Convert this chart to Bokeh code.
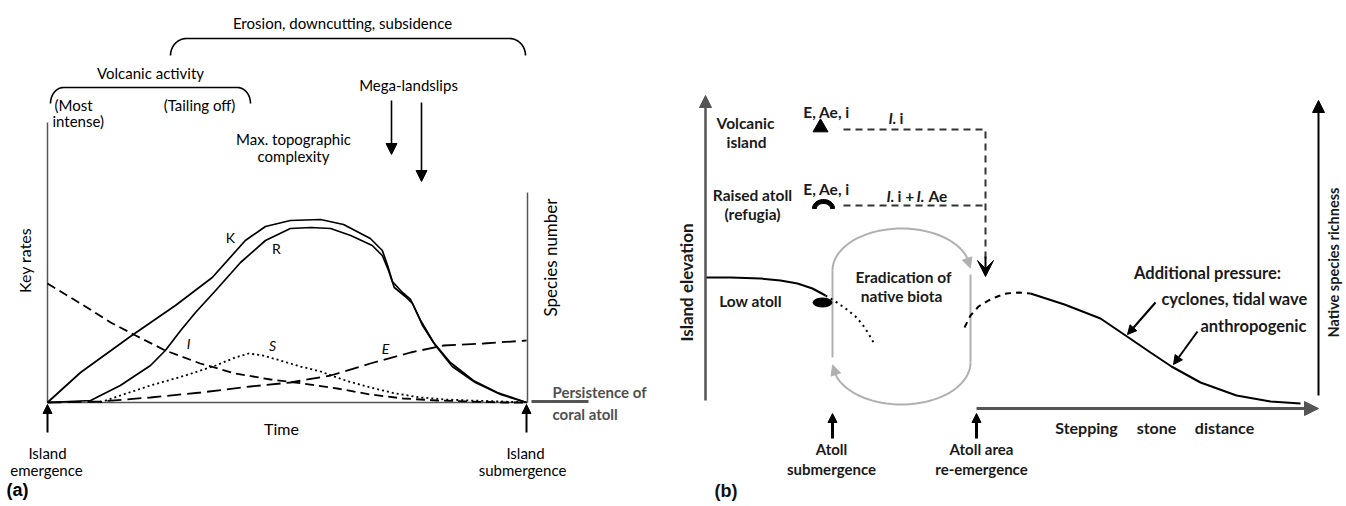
import numpy as np
from bokeh.plotting import figure
from bokeh.models import Range1d, Arrow, NormalHead, VeeHead
from bokeh.layouts import row
from bokeh.embed import file_html
from bokeh.resources import INLINE
from bokeh.core.properties import value

# ---------------- Panel (a) data: time (0-100) vs key rates (0-100) ----------------
k_time = [0, 6.9, 17.3, 26.7, 34.4, 41.3, 45.5, 50.7, 57, 61.8, 67.4, 69.9, 71, 72, 74.1, 75.8, 77.9, 80.6, 84.1, 88.9, 93.9, 100]
k_rate = [0, 15, 33, 48.5, 62.5, 81, 88, 91, 91.5, 89, 82, 76, 68.5, 60.5, 55, 51.5, 41, 30, 20, 11, 5, 0]

r_time = [0, 9, 15.2, 21.5, 24.6, 27.8, 30.9, 35.1, 40.3, 45.5, 50.7, 55, 59.1, 63.3, 67.8, 69.9, 71.2, 72.4, 74.7, 76.2, 78.3, 81, 84.5, 89.3, 94.6, 100]
r_rate = [0, 1, 8.5, 18.5, 26, 36, 45, 56, 70, 81, 87, 87.5, 87, 83.5, 78.5, 73.5, 66, 57.5, 53, 49.5, 38.5, 28.5, 18, 10, 4, 0]

i_time = [0, 6.9, 13.2, 18.4, 24.6, 31.9, 39.2, 46.6, 53.4, 60.5, 67.4, 74.3, 81.4, 88.3, 95.2, 100]
i_rate = [59.5, 49.5, 40, 33.5, 26, 19.5, 14.5, 11.5, 9.5, 7, 4, 2, 1, 0.5, 0, 0]

s_time = [11, 15.2, 21.5, 28.8, 35.1, 39.2, 42, 45, 48.6, 52.8, 57, 62.2, 67.4, 72.7, 77.9, 83.1, 88.3, 94.6, 100]
s_rate = [0, 3.5, 8.5, 13.5, 18.5, 22.5, 24.5, 23.5, 21, 18, 15.5, 11, 7.5, 4.5, 2.5, 1.5, 1, 0.5, 0]

e_time = [0, 11, 21.5, 32, 42.4, 50.7, 59.1, 67.4, 75.8, 82.7, 91, 100]
e_rate = [0, 0.5, 2.5, 5, 8, 10, 13.5, 19.5, 25, 28.5, 29.5, 31]

# ---------------- Panel (b) data: distance vs elevation / richness ----------------
atoll_dist = [0, 25, 55, 75, 92, 107, 120]
atoll_elev = [130, 130, 129, 127, 124, 119, 112]
sub_dist = [120, 130, 140, 150, 157, 163, 168]
sub_elev = [112, 106, 99, 91, 83, 74, 65]
reem_dist = [259, 265, 273, 283, 292, 301, 313, 325]
reem_elev = [80, 92, 101, 107, 111, 114, 115, 114]
rich_dist = [325, 359, 395, 423, 445, 466, 495, 531, 565, 595]
rich_val = [114, 103, 89, 70, 55, 41, 25, 12, 6, 4]

FA = value("Lato")
FB = value("Lato")

W_A, W_B, H = 666, 680, 506


# page-pixel -> data helpers for annotations
def ax(px):
    return (px - 47) / 4.79


def ay(py):
    return (402 - py) / 2.0


def bx(px):
    return px - 705


def by(py):
    return 407 - py


def make_fig(xr, yr, w):
    p = figure(width=w, height=H, x_range=Range1d(*xr), y_range=Range1d(*yr),
               output_backend="svg", toolbar_location=None,
               x_axis_type=None, y_axis_type=None, min_border=0,
               outline_line_color=None, background_fill_color="white",
               border_fill_color="white")
    p.min_border_left = p.min_border_right = 0
    p.min_border_top = p.min_border_bottom = 0
    return p


def txt(p, x, y, s, size, font=FA, style="normal", align="center", color="#111111", angle=0.0):
    p.text(x=[x], y=[y], text=[s], text_font=font, text_font_size=f"{size}px",
           text_font_style=style, text_align=align, text_baseline="middle",
           text_color=color, angle=angle)


def arr(p, x0, y0, x1, y1, color="black", width=2, size=10, vee=False):
    if vee:
        head = VeeHead(size=size, fill_color=color, line_color=color, line_width=1)
    else:
        head = NormalHead(size=size, fill_color=color, line_color=color, line_width=1)
    p.add_layout(Arrow(end=head, x_start=x0, y_start=y0, x_end=x1, y_end=y1,
                       line_color=color, line_width=width))


# ====================== Panel (a) ======================
pa = make_fig((ax(0), ax(W_A)), (ay(H), ay(0)), W_A)

# axes
pa.line([ax(47), ax(47)], [ay(122), ay(402)], line_color="#555555", line_width=1.5)
pa.line([ax(47), ax(527)], [ay(402), ay(402)], line_color="#555555", line_width=1.5)
pa.line([ax(527), ax(527)], [ay(192), ay(402)], line_color="#555555", line_width=1.5)
pa.line([ax(531), ax(588)], [ay(401), ay(401)], line_color="#555555", line_width=3)

# curves
pa.line(k_time, k_rate, line_color="black", line_width=1.7)
pa.line(r_time, r_rate, line_color="black", line_width=1.7)
pa.line(i_time, i_rate, line_color="black", line_width=1.8, line_dash="9 5")
pa.line(s_time, s_rate, line_color="black", line_width=1.8, line_dash="2 3")
pa.line(e_time, e_rate, line_color="black", line_width=1.8, line_dash="14 6")


def brace(p, x0, x1, ytop, yend, r):
    th1 = np.linspace(np.pi, np.pi / 2, 14)
    th2 = np.linspace(np.pi / 2, 0, 14)
    ry = yend - ytop
    xs = np.concatenate([(x0 + r) + r * np.cos(th1), (x1 - r) + r * np.cos(th2)])
    ys = np.concatenate([yend - ry * np.sin(th1), yend - ry * np.sin(th2)])
    p.line([ax(v) for v in xs], [ay(v) for v in ys], line_color="black", line_width=1.6)


brace(pa, 170, 525, 38, 55, 16)
brace(pa, 50, 250, 87, 103, 13)

# landslip arrows
arr(pa, ax(391), ay(100), ax(391), ay(154), width=1.6, size=11)
arr(pa, ax(421), ay(102), ax(421), ay(181), width=1.6, size=11)

# bottom arrows
arr(pa, ax(47), ay(432), ax(47), ay(404), width=2, size=9)
arr(pa, ax(526), ay(432), ax(526), ay(404), width=2, size=9)

TA = "#000000"
txt(pa, ax(342), ay(22), "Erosion, downcutting, subsidence", 15, color=TA)
txt(pa, ax(150), ay(72), "Volcanic activity", 15, color=TA)
txt(pa, ax(54), ay(104), "(Most", 15, align="left", color=TA)
txt(pa, ax(52), ay(120), "intense)", 15, align="left", color=TA)
txt(pa, ax(199), ay(104), "(Tailing off)", 15, color=TA)
txt(pa, ax(408), ay(84), "Mega-landslips", 15, color=TA)
txt(pa, ax(293), ay(138), "Max. topographic", 15, color=TA)
txt(pa, ax(293), ay(155), "complexity", 15, color=TA)
txt(pa, ax(24), ay(260), "Key rates", 16, angle=np.pi / 2, color=TA)
txt(pa, ax(550), ay(257), "Species number", 17, angle=np.pi / 2, color=TA)
txt(pa, ax(230), ay(237), "K", 14, color=TA)
txt(pa, ax(276), ay(248), "R", 14, color=TA)
txt(pa, ax(188), ay(343), "I", 14, style="italic", color=TA)
txt(pa, ax(272), ay(345), "S", 14, style="italic", color=TA)
txt(pa, ax(385), ay(348), "E", 14, style="italic", color=TA)
txt(pa, ax(281), ay(428), "Time", 16, color=TA)
txt(pa, ax(47), ay(452), "Island", 15, color=TA)
txt(pa, ax(46), ay(469), "emergence", 15, color=TA)
txt(pa, ax(525), ay(452), "Island", 15, color=TA)
txt(pa, ax(522), ay(469), "submergence", 15, color=TA)
txt(pa, ax(552), ay(391), "Persistence of", 15, style="bold", align="left", color="#505050")
txt(pa, ax(552), ay(413), "coral atoll", 15, style="bold", align="left", color="#505050")
txt(pa, ax(6), ay(489), "(a)", 18, font=value("Liberation Sans"), style="bold", align="left", color=TA)

# ====================== Panel (b) ======================
pb = make_fig((bx(W_A), bx(W_A + W_B)), (by(H), by(0)), W_B)

# axes
arr(pb, bx(705), by(400), bx(705), by(95), color="#555555", width=2.5, size=12)
arr(pb, bx(1318), by(395), bx(1318), by(100), color="black", width=2, size=12)
arr(pb, bx(976), by(408), bx(1318), by(408), color="#555555", width=3, size=14)

# bottom event arrows
arr(pb, bx(832), by(438), bx(832), by(413), width=3, size=9)
arr(pb, bx(976), by(438), bx(976), by(413), width=3, size=9)

# grey eradication loop
G = "#b0b0b0"
pb.line([bx(832), bx(832)], [by(270), by(357)], line_color=G, line_width=2)
pb.line([bx(970), bx(970)], [by(274), by(362)], line_color=G, line_width=2)
th = np.linspace(np.pi, 0.35, 40)
pb.line([bx(901 + 69 * np.cos(t)) for t in th], [by(270 - 42 * np.sin(t)) for t in th],
        line_color=G, line_width=2)
arr(pb, bx(901 + 69 * np.cos(0.35)), by(270 - 42 * np.sin(0.35)),
    bx(901 + 69 * np.cos(0.06)), by(270 - 42 * np.sin(0.06)), color=G, width=2, size=10)
th = np.linspace(0, np.pi - 0.35, 40)
pb.line([bx(901 + 69 * np.cos(t)) for t in th], [by(362 + 42 * np.sin(t)) for t in th],
        line_color=G, line_width=2)
arr(pb, bx(901 + 69 * np.cos(np.pi - 0.35)), by(362 + 42 * np.sin(np.pi - 0.35)),
    bx(901 + 69 * np.cos(np.pi - 0.06)), by(362 + 42 * np.sin(np.pi - 0.06)), color=G, width=2, size=10)

# dashed dispersal paths
D = "#333333"
pb.line([bx(843), bx(985), bx(985)], [by(129), by(129), by(258)], line_color=D, line_width=2, line_dash="7 5")
pb.line([bx(843), bx(985)], [by(205), by(205)], line_color=D, line_width=2, line_dash="7 5")
arr(pb, bx(985), by(256), bx(985), by(276), color="black", width=2, size=16, vee=True)

# markers
pb.scatter([bx(820)], [by(127)], marker="triangle", size=15, fill_color="black", line_color="black")
tt = np.linspace(0, np.pi, 20)
dome_x = [bx(823 + 11 * np.cos(t)) for t in tt] + [bx(823 + 7 * np.cos(t)) for t in tt[::-1]]
dome_y = [by(208 - 9 * np.sin(t)) for t in tt] + [by(208 - 5 * np.sin(t)) for t in tt[::-1]]
pb.patch(dome_x, dome_y, fill_color="black", line_color="black", line_width=1)
pb.ellipse(x=[bx(822)], y=[by(302)], width=19, height=9, fill_color="black", line_color="black")

# curves
pb.line(atoll_dist, atoll_elev, line_color="black", line_width=2)
pb.line(sub_dist, sub_elev, line_color="black", line_width=2, line_dash="2 4")
pb.line(reem_dist, reem_elev, line_color="black", line_width=2, line_dash="6 5")
pb.line(rich_dist, rich_val, line_color="black", line_width=2)

# pressure arrows
arr(pb, bx(1155), by(302), bx(1127), by(334), width=2, size=9)
arr(pb, bx(1197), by(331), bx(1173), by(364), width=2, size=9)

TB = "#1a1a1a"
SB = 15.5
txt(pb, bx(745), by(122), "Volcanic", SB, font=FB, style="bold", color=TB)
txt(pb, bx(746), by(141), "island", SB, font=FB, style="bold", color=TB)
txt(pb, bx(826), by(111), "E, Ae, i", SB, font=FB, style="bold", color=TB)
txt(pb, bx(888), by(117), "I.", SB, font=FB, style="bold italic", align="left", color=TB)
txt(pb, bx(899), by(117), "i", SB, font=FB, style="bold", align="left", color=TB)
txt(pb, bx(752), by(194), "Raised atoll", SB, font=FB, style="bold", color=TB)
txt(pb, bx(752), by(213), "(refugia)", SB, font=FB, style="bold", color=TB)
txt(pb, bx(826), by(188), "E, Ae, i", SB, font=FB, style="bold", color=TB)
txt(pb, bx(886), by(195), "I.", SB, font=FB, style="bold italic", align="left", color=TB)
txt(pb, bx(897), by(195), "i +", SB, font=FB, style="bold", align="left", color=TB)
txt(pb, bx(916), by(195), "I.", SB, font=FB, style="bold italic", align="left", color=TB)
txt(pb, bx(928), by(195), "Ae", SB, font=FB, style="bold", align="left", color=TB)
txt(pb, bx(750), by(300), "Low atoll", SB, font=FB, style="bold", color=TB)
txt(pb, bx(903), by(276), "Eradication of", SB, font=FB, style="bold", color=TB)
txt(pb, bx(901), by(295), "native biota", SB, font=FB, style="bold", color=TB)
txt(pb, bx(1207), by(272), "Additional pressure:", 16.5, font=FB, style="bold", color=TB)
txt(pb, bx(1234), by(298), "cyclones, tidal wave", 16.5, font=FB, style="bold", color=TB)
txt(pb, bx(1253), by(325), "anthropogenic", 16.5, font=FB, style="bold", color=TB)
txt(pb, bx(686), by(282), "Island elevation", 17, font=FB, style="bold", color=TB, angle=np.pi / 2)
txt(pb, bx(1333), by(262), "Native species richness", 14.5, font=FB, style="bold", color=TB, angle=np.pi / 2)
txt(pb, bx(1086), by(427), "Stepping", 16, font=FB, style="bold", color=TB)
txt(pb, bx(1156), by(427), "stone", 16, font=FB, style="bold", color=TB)
txt(pb, bx(1224), by(427), "distance", 16, font=FB, style="bold", color=TB)
txt(pb, bx(831), by(448), "Atoll", 15, font=FB, style="bold", color=TB)
txt(pb, bx(831), by(468), "submergence", 15, font=FB, style="bold", color=TB)
txt(pb, bx(981), by(448), "Atoll area", 15, font=FB, style="bold", color=TB)
txt(pb, bx(981), by(468), "re-emergence", 15, font=FB, style="bold", color=TB)
txt(pb, bx(714), by(490), "(b)", 18, font=value("Liberation Sans"), style="bold", align="left")

layout = row(pa, pb)
open("out.html", "w").write(file_html(layout, INLINE))
